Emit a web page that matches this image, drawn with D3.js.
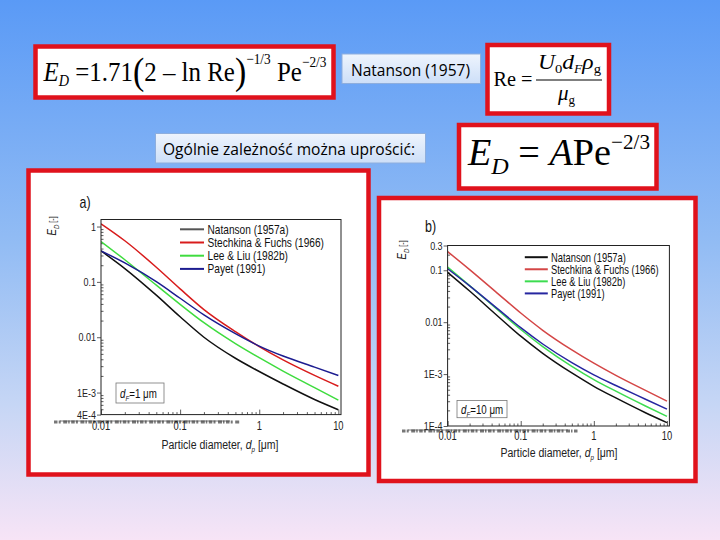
<!DOCTYPE html>
<html>
<head>
<meta charset="utf-8">
<script src="https://cdn.jsdelivr.net/npm/d3@7"></script>
<style>
  body { margin: 0; }
  svg { display: block; }
</style>
</head>
<body>
<div id="slide"></div>
<script>
const W = 720, H = 540;

// particle diameter grid, um
const diam = [0.01, 0.02, 0.05, 0.1, 0.2, 0.5, 1, 2, 5, 10];
const seriesNames = ["Natanson (1957a)", "Stechkina & Fuchs (1966)", "Lee & Liu (1982b)", "Payet (1991)"];

// panel a) dF = 1 um
const natansonA = [0.363, 0.174, 0.0575, 0.0234, 0.0100, 0.00417, 0.0024, 0.00143, 0.00075, 0.00049];
const stechkinaA = [1.12, 0.553, 0.184, 0.0748, 0.0316, 0.0126, 0.00676, 0.00389, 0.00204, 0.0013];
const leeLiuA = [0.537, 0.251, 0.0871, 0.0393, 0.0183, 0.00767, 0.00427, 0.00245, 0.00123, 0.00073];
const payetA = [0.363, 0.220, 0.101, 0.0506, 0.0253, 0.0116, 0.00692, 0.00457, 0.00288, 0.00204];

// panel b) dF = 10 um
const natansonB = [0.0912, 0.0398, 0.0126, 0.00537, 0.00251, 0.00105, 0.000582, 0.000347, 0.000182, 0.000116];
const stechkinaB = [0.229, 0.103, 0.0344, 0.0150, 0.00698, 0.00292, 0.00162, 0.000944, 0.00049, 0.000302];
const leeLiuB = [0.115, 0.0507, 0.0166, 0.00724, 0.00339, 0.00141, 0.000785, 0.000468, 0.000245, 0.000153];
const payetB = [0.107, 0.0501, 0.0174, 0.00783, 0.0038, 0.00166, 0.000966, 0.000603, 0.000331, 0.000211];

const xTicks = [0.01, 0.1, 1, 10];
const xTickLabels = ["0.01", "0.1", "1", "10"];
const yTicksA = [1, 0.1, 0.01, 1e-3, 4e-4];
const yTickLabelsA = ["1", "0.1", "0.01", "1E-3", "4E-4"];
const yTicksB = [0.3, 0.1, 0.01, 1e-3, 1e-4];
const yTickLabelsB = ["0.3", "0.1", "0.01", "1E-3", "1E-4"];

const RED = "#e0121c";
const serif = "'Liberation Serif', 'DejaVu Serif', serif";
const sans = "'Liberation Sans', Arial, sans-serif";

const svg = d3.select("#slide").append("svg")
    .attr("width", W)
    .attr("height", H)
    .attr("viewBox", `0 0 ${W} ${H}`);

const defs = svg.append("defs");
const bg = defs.append("linearGradient").attr("id", "bg")
    .attr("x1", 0).attr("y1", 0).attr("x2", 0).attr("y2", 1);
[["0", "#5a9af6"], ["0.45", "#92bcf4"], ["0.75", "#c6d6f5"], ["1", "#f7e4f6"]]
    .forEach(s => bg.append("stop").attr("offset", s[0]).attr("stop-color", s[1]));
const boxGrad = defs.append("linearGradient").attr("id", "boxg")
    .attr("x1", 0).attr("y1", 0).attr("x2", 0).attr("y2", 1);
boxGrad.append("stop").attr("offset", 0).attr("stop-color", "#eef4fd");
boxGrad.append("stop").attr("offset", 1).attr("stop-color", "#cddff8");

svg.append("rect").attr("width", W).attr("height", H).attr("fill", "url(#bg)");

// text made of pieces with baseline shifts (sub/superscripts)
function richText(parent, x, y, parts, family, size) {
    const t = parent.append("text")
        .attr("x", x).attr("y", y)
        .attr("font-family", family)
        .attr("font-size", size)
        .attr("fill", "#000");
    let cur = 0;
    parts.forEach(p => {
        const s = p.shift || 0;
        t.append("tspan")
            .attr("dy", s - cur)
            .attr("font-size", p.size || size)
            .attr("font-style", p.italic ? "italic" : null)
            .text(p.t);
        cur = s;
    });
    return t;
}

function redBox(x, y, w, h) {
    svg.append("rect")
        .attr("x", x).attr("y", y).attr("width", w).attr("height", h)
        .attr("fill", "#fff")
        .attr("stroke", RED)
        .attr("stroke-width", 4.5);
}

function blueBox(x, y, w, h) {
    svg.append("rect")
        .attr("x", x).attr("y", y).attr("width", w).attr("height", h)
        .attr("fill", "url(#boxg)")
        .attr("stroke", "#8eaedd")
        .attr("stroke-width", 1);
}

// ---- formula boxes ----
redBox(35.5, 46.5, 298, 51);
richText(svg, 43.5, 81, [
    {t: "E", italic: true},
    {t: "D", italic: true, size: 16, shift: 5},
    {t: " =1.71", shift: 0},
    {t: "(", size: 38, shift: 3},
    {t: "2 – ln Re", shift: 0},
    {t: ")", size: 38, shift: 3},
    {t: "−1/3", size: 15, shift: -17},
    {t: " Pe", shift: 0},
    {t: "−2/3", size: 15, shift: -14}
], serif, 28).attr("textLength", 283).attr("lengthAdjust", "spacingAndGlyphs");

blueBox(342, 54, 138.5, 29.5);
svg.append("text")
    .attr("x", 351).attr("y", 75.5)
    .attr("font-family", "'Open Sans', 'Liberation Sans', sans-serif")
    .attr("font-size", 16)
    .attr("textLength", 119).attr("lengthAdjust", "spacingAndGlyphs")
    .text("Natanson (1957)");

redBox(487.5, 45, 121.5, 68.5);
richText(svg, 493.5, 86, [{t: "Re ="}], serif, 21)
    .attr("textLength", 39).attr("lengthAdjust", "spacingAndGlyphs");
richText(svg, 538, 69, [
    {t: "U", italic: true},
    {t: "0", size: 13, shift: 4},
    {t: "d", italic: true, shift: 0},
    {t: "F", italic: true, size: 12, shift: 4},
    {t: "ρ", italic: true, shift: 0},
    {t: "g", size: 13, shift: 4}
], serif, 21).attr("textLength", 63).attr("lengthAdjust", "spacingAndGlyphs");
svg.append("line")
    .attr("x1", 536).attr("x2", 602).attr("y1", 80).attr("y2", 80)
    .attr("stroke", "#000").attr("stroke-width", 1.2);
richText(svg, 558, 100, [
    {t: "μ", italic: true},
    {t: "g", size: 13, shift: 4}
], serif, 21);

blueBox(155.5, 133.5, 270, 29.5);
svg.append("text")
    .attr("x", 163).attr("y", 155)
    .attr("font-family", "'Open Sans', 'Liberation Sans', sans-serif")
    .attr("font-size", 16)
    .attr("textLength", 252).attr("lengthAdjust", "spacingAndGlyphs")
    .text("Ogólnie zależność można uprościć:");

redBox(459, 125, 197.5, 63.5);
richText(svg, 468, 165, [
    {t: "E", italic: true},
    {t: "D", italic: true, size: 24, shift: 9},
    {t: " = ", shift: 0},
    {t: "A", italic: true, shift: 0},
    {t: "Pe", shift: 0},
    {t: "−2/3", size: 21, shift: -16}
], serif, 38).attr("textLength", 182).attr("lengthAdjust", "spacingAndGlyphs");

// ---- chart panels ----
const panels = [
    {
        box: [28.5, 170.5, 340, 304],
        plot: {l: 101, r: 341, t: 219.5, b: 414.6},
        yDomain: [4e-4, 1.34],
        yTicks: yTicksA, yTickLabels: yTickLabelsA,
        series: [natansonA, stechkinaA, leeLiuA, payetA],
        colors: ["#111111", "#d81c1c", "#3fdc3f", "#1c1c90"],
        legendColors: ["#555555", "#d81c1c", "#3fdc3f", "#1c1c90"],
        legend: {x0: 180, x1: 204, tx: 207.5, y0: 229.3, dy: 13.2, size: 13},
        tag: {t: "a)", x: 79.5, y: 208},
        fiber: {x: 116, y: 383, w: 48, h: 20, tx: 120, ty: 398, val: "=1 μm"},
        yLab: {x: 56, y: 226},
        xLab: {x: 220, y: 449},
        xTickY: 430,
        junk: {x: 54, y: 422, w: 186}
    },
    {
        box: [379, 198, 316.5, 283],
        plot: {l: 447.6, r: 669.4, t: 245.5, b: 426},
        yDomain: [1e-4, 0.3],
        yTicks: yTicksB, yTickLabels: yTickLabelsB,
        series: [natansonB, stechkinaB, leeLiuB, payetB],
        colors: ["#111111", "#d44646", "#3cdc50", "#2626a0"],
        legendColors: ["#111111", "#d44646", "#3cdc50", "#2626a0"],
        legend: {x0: 524.8, x1: 547.8, tx: 551, y0: 257.2, dy: 12.07, size: 12},
        tag: {t: "b)", x: 425, y: 232},
        fiber: {x: 457, y: 400.5, w: 50, h: 17.2, tx: 461, ty: 413.5, val: "=10 μm"},
        yLab: {x: 406, y: 250},
        xLab: {x: 559, y: 457},
        xTickY: 439.5,
        junk: {x: 402, y: 431, w: 176}
    }
];

const SX = 0.78; // plot lettering is horizontally condensed

function condText(g, x, y, anchor, size) {
    return g.append("text")
        .attr("transform", `translate(${x},${y}) scale(${SX},1)`)
        .attr("text-anchor", anchor)
        .attr("font-family", sans)
        .attr("font-size", size)
        .attr("fill", "#222");
}

function minorTicks(domain) {
    const out = [];
    for (let e = -5; e <= 1; e++) {
        for (let k = 2; k <= 9; k++) {
            const v = k * Math.pow(10, e);
            if (v > domain[0] * 1.0001 && v < domain[1] * 0.9999) out.push(v);
        }
    }
    return out;
}

panels.forEach((p, pi) => {
    redBox(p.box[0], p.box[1], p.box[2], p.box[3]);
    const g = svg.append("g");
    const P = p.plot;

    const x = d3.scaleLog().domain([0.01, 10.8]).range([P.l, P.r]);
    const y = d3.scaleLog().domain(p.yDomain).range([P.b, P.t]);

    // minor ticks, inward
    g.append("g")
        .attr("transform", `translate(0,${P.b})`)
        .call(d3.axisBottom(x).tickValues(minorTicks(x.domain())).tickSize(-2.5).tickFormat(""))
        .call(a => a.select(".domain").remove());
    g.append("g")
        .attr("transform", `translate(${P.l},0)`)
        .call(d3.axisLeft(y).tickValues(minorTicks(y.domain())).tickSize(-2.5).tickFormat(""))
        .call(a => a.select(".domain").remove());

    // major ticks
    g.append("g")
        .attr("transform", `translate(0,${P.b})`)
        .call(d3.axisBottom(x).tickValues(xTicks).tickSizeInner(-5).tickSizeOuter(0).tickFormat(""))
        .call(a => a.select(".domain").remove());
    g.append("g")
        .attr("transform", `translate(${P.l},0)`)
        .call(d3.axisLeft(y).tickValues(p.yTicks).tickSizeInner(4).tickSizeOuter(0).tickFormat(""))
        .call(a => a.select(".domain").remove());
    g.selectAll(".tick line").attr("stroke", "#333").attr("stroke-width", 0.8);

    // scanning artefact under the x axis (garbled hidden text in the source slide)
    g.append("line")
        .attr("x1", p.junk.x).attr("x2", p.junk.x + p.junk.w)
        .attr("y1", p.junk.y).attr("y2", p.junk.y)
        .attr("stroke", "#777").attr("stroke-width", 3)
        .attr("stroke-dasharray", "3.5,1.2,2,2.5,4,1,1.5,1.5");
    g.append("line")
        .attr("x1", p.junk.x + 6).attr("x2", p.junk.x + p.junk.w - 10)
        .attr("y1", p.junk.y - 1).attr("y2", p.junk.y - 1)
        .attr("stroke", "#444").attr("stroke-width", 0.7);

    // tick labels
    xTicks.forEach((v, i) => {
        condText(g, x(v), p.xTickY, "middle", 12).text(xTickLabels[i]);
    });
    p.yTicks.forEach((v, i) => {
        condText(g, P.l - 5, y(v) + 4, "end", 11.5).text(p.yTickLabels[i]);
    });

    // curves
    const clipId = "clip" + pi;
    defs.append("clipPath").attr("id", clipId)
        .append("rect").attr("x", P.l).attr("y", P.t)
        .attr("width", P.r - P.l).attr("height", P.b - P.t);
    const line = d3.line()
        .x((d, i) => x(diam[i]))
        .y(d => y(d))
        .curve(d3.curveMonotoneX);
    g.append("g").attr("clip-path", `url(#${clipId})`)
        .selectAll("path")
        .data(p.series)
        .join("path")
        .attr("d", line)
        .attr("fill", "none")
        .attr("stroke", (d, i) => p.colors[i])
        .attr("stroke-width", 1.5);

    // frame
    g.append("rect")
        .attr("x", P.l).attr("y", P.t)
        .attr("width", P.r - P.l).attr("height", P.b - P.t)
        .attr("fill", "none").attr("stroke", "#222").attr("stroke-width", 1);

    // legend
    const L = p.legend;
    seriesNames.forEach((name, i) => {
        const yy = L.y0 + i * L.dy;
        g.append("line")
            .attr("x1", L.x0).attr("x2", L.x1).attr("y1", yy).attr("y2", yy)
            .attr("stroke", p.legendColors[i]).attr("stroke-width", 2);
        condText(g, L.tx, yy + 4.3, "start", L.size).attr("fill", "#111").text(name);
    });

    // panel tag
    condText(g, p.tag.x, p.tag.y, "start", 16).attr("fill", "#111").text(p.tag.t);

    // fiber diameter box
    const F = p.fiber;
    g.append("rect")
        .attr("x", F.x).attr("y", F.y).attr("width", F.w).attr("height", F.h)
        .attr("fill", "#fff").attr("stroke", "#777").attr("stroke-width", 0.8);
    const ft = condText(g, F.tx, F.ty, "start", 12.5).attr("fill", "#111");
    ft.append("tspan").attr("font-style", "italic").text("d");
    ft.append("tspan").attr("font-style", "italic").attr("font-size", 8).attr("dy", 3).text("F");
    ft.append("tspan").attr("dy", -3).text(F.val);

    // axis titles
    const yt = g.append("text")
        .attr("transform", `translate(${p.yLab.x},${p.yLab.y}) rotate(-90) scale(${SX},1)`)
        .attr("text-anchor", "middle")
        .attr("font-family", sans)
        .attr("font-size", 12.5)
        .attr("fill", "#222");
    yt.append("tspan").attr("font-style", "italic").text("E");
    yt.append("tspan").attr("font-style", "italic").attr("font-size", 8).attr("dy", 3).text("D");
    yt.append("tspan").attr("dy", -3).attr("font-size", 9).text(" [-]");

    const xt = condText(g, p.xLab.x, p.xLab.y, "middle", 13.5).attr("fill", "#222");
    xt.append("tspan").text("Particle diameter, ");
    xt.append("tspan").attr("font-style", "italic").text("d");
    xt.append("tspan").attr("font-style", "italic").attr("font-size", 8).attr("dy", 3).text("p");
    xt.append("tspan").attr("dy", -3).text(" [μm]");
});
</script>
</body>
</html>
